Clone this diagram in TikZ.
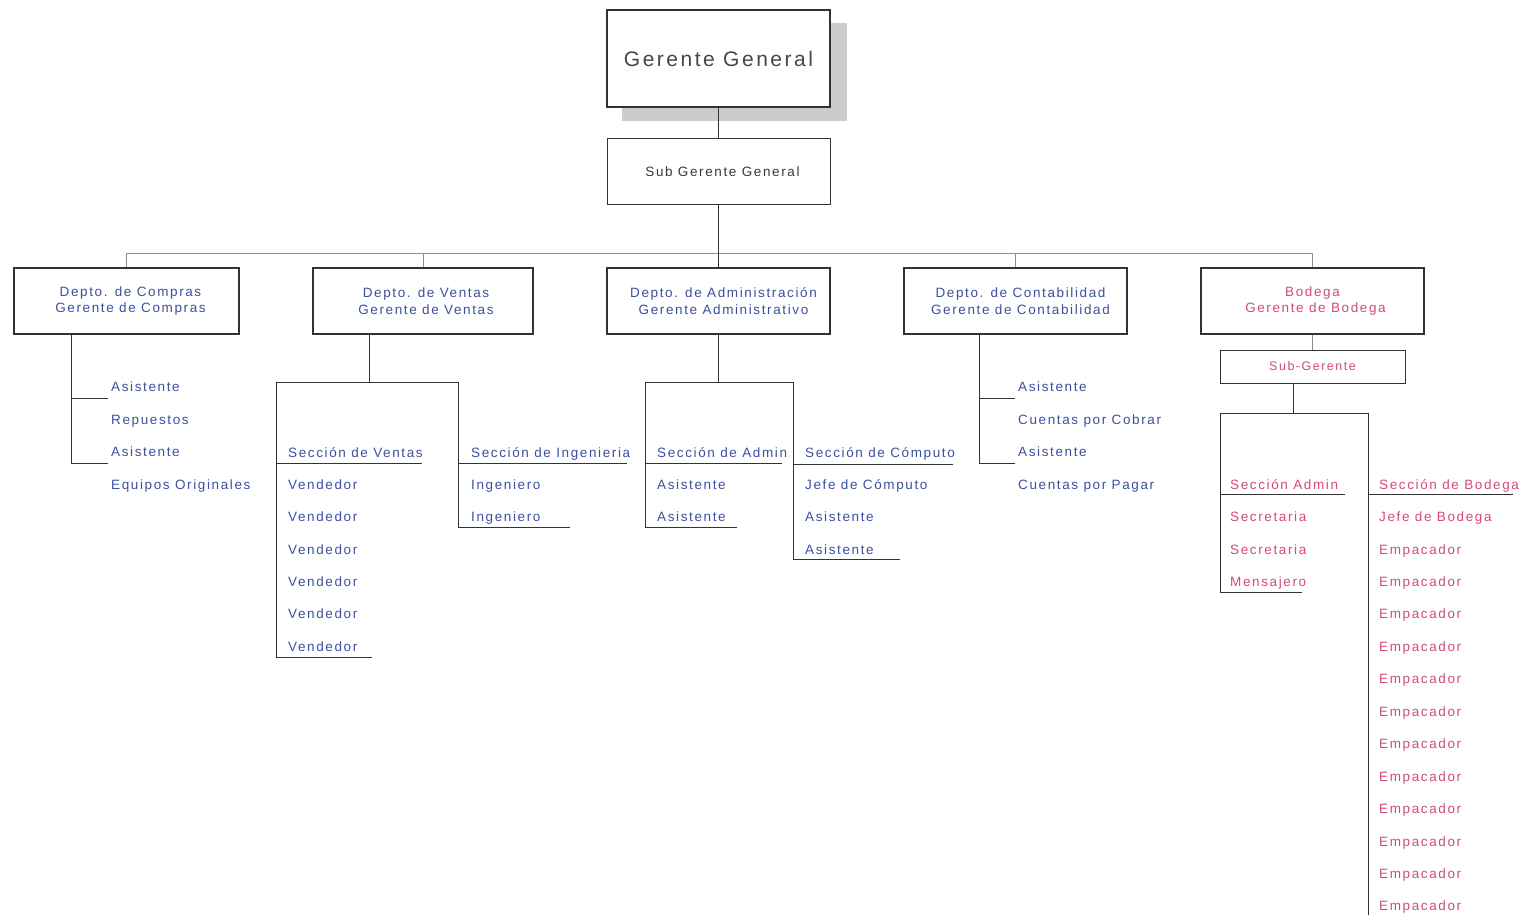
\documentclass[tikz,border=0pt]{standalone}
\usepackage{fontspec}
\setmainfont[LetterSpace=12]{Liberation Sans}
\definecolor{txtblue}{HTML}{3C4F9E}
\definecolor{txtpink}{HTML}{D24A78}
\definecolor{lin}{HTML}{333333}
\tikzset{
  box/.style={draw=lin, line width=1.6pt, fill=white, minimum width=223pt, minimum height=66pt,
    inner sep=0pt, align=center, font=\fontsize{13.5}{16.5}\selectfont, text=txtblue},
  item/.style={anchor=base west, inner sep=0pt, font=\fontsize{13.5}{16}\selectfont, text=txtblue},
  pitem/.style={item, text=txtpink},
  conn/.style={draw=lin, line width=1pt},
  bus/.style={draw=black!45, line width=0.9pt},
}
\begin{document}
\begin{tikzpicture}[x=1pt,y=-1pt]
\useasboundingbox (0,0) rectangle (1534,915);
% shadow
\fill[black!20] (622,23) rectangle (847,121);
\node[box, line width=1.2pt, minimum height=97pt, font=\fontsize{21}{24}\selectfont, text=black!72] (gg) at (718.5,58.5) {Gerente General};
\node[box, line width=1pt, minimum height=65pt, text=black!78] (sgg) at (718.5,171.5) {\hspace*{8pt}Sub Gerente General};
% departments
\node[box, minimum width=225pt] (comp) at (126.5,301) {\hspace*{8pt}Depto. de Compras\\\hspace*{8pt}Gerente de Compras};
\node[box, minimum width=220pt] (vent) at (423,301) {\hspace*{6pt}Depto. de Ventas\\\hspace*{6pt}Gerente de Ventas};
\node[box] (adm) at (718.5,301) {\hspace*{10pt}Depto. de Administración\\\hspace*{10pt}Gerente Administrativo};
\node[box] (cont) at (1015.5,301) {\hspace*{10pt}Depto. de Contabilidad\\\hspace*{10pt}Gerente de Contabilidad};
\node[box, text=txtpink] (bod) at (1312.5,301) {Bodega\\\hspace*{6pt}Gerente de Bodega};
\node[box, line width=1pt, minimum width=185pt, minimum height=33pt, text=txtpink, font=\fontsize{12.5}{14}\selectfont] (bsub) at (1312.5,366.5) {Sub-Gerente};
% top connectors
\coordinate (busc) at (718.5,253);
\draw[conn] (gg) -- (sgg);
\draw[conn] (sgg.south) -- (busc);
\draw[bus] (comp.north |- busc) -- (bod.north |- busc);
\foreach \d in {comp,vent,cont,bod} \draw[bus] (\d.north |- busc) -- (\d.north);
\draw[conn] (busc) -- (adm.north);
\draw[bus] (bod) -- (bsub);
% item nodes
\foreach \t/\y [count=\i] in {Asistente/386,Repuestos/419,Asistente/451,Equipos Originales/484}
  \node[item] (ci\i) at (111,\y+5) {\t};
\foreach \t/\y [count=\i] in {Sección de Ventas/452,Vendedor/484,Vendedor/516.5,Vendedor/549,Vendedor/581,Vendedor/613.5,Vendedor/646}
  \node[item] (vl\i) at (288,\y+5) {\t};
\foreach \t/\y [count=\i] in {Sección de Ingenieria/452,Ingeniero/484,Ingeniero/516.5}
  \node[item] (vr\i) at (471,\y+5) {\t};
\foreach \t/\y [count=\i] in {Sección de Admin/452,Asistente/484,Asistente/516.5}
  \node[item] (al\i) at (657,\y+5) {\t};
\foreach \t/\y [count=\i] in {Sección de Cómputo/452,Jefe de Cómputo/484,Asistente/516.5,Asistente/549}
  \node[item] (ar\i) at (805,\y+5) {\t};
\foreach \t/\y [count=\i] in {Asistente/386,Cuentas por Cobrar/419,Asistente/451,Cuentas por Pagar/484}
  \node[item] (ki\i) at (1018,\y+5) {\t};
\foreach \t/\y [count=\i] in {Sección Admin/484,Secretaria/516.5,Secretaria/549,Mensajero/581}
  \node[pitem] (bl\i) at (1230,\y+5) {\t};
\node[pitem] (br1) at (1379,489) {Sección de Bodega};
\node[pitem] (br2) at (1379,521.5) {Jefe de Bodega};
\foreach \i in {0,...,11}
  \node[pitem] (be\i) at (1379,554+\i*32.45) {Empacador};
% Compras tree
\coordinate (cL) at (71,0);
\draw[conn] (comp.south -| cL) -- (71,463) -- (108,463);
\draw[conn] (71,398) -- (108,398);
% Ventas tree
\coordinate (vL) at (369,0);
\draw[conn] (vent.south -| vL) -- (369,382);
\draw[conn] (276,657) -- (276,382) -- (458,382) -- (458,527) -- (570,527);
\draw[conn] (276,463) -- (422,463);
\draw[conn] (276,657) -- (372,657);
\draw[conn] (458,463) -- (627,463);
% Admin tree
\draw[conn] (adm.south) -- (718.5,382);
\draw[conn] (645,527) -- (645,382) -- (793,382) -- (793,559) -- (900,559);
\draw[conn] (645,463) -- (782,463);
\draw[conn] (645,527) -- (737,527);
\draw[conn] (793,464) -- (953,464);
% Contabilidad tree
\coordinate (kL) at (979,0);
\draw[conn] (cont.south -| kL) -- (979,463) -- (1015,463);
\draw[conn] (979,398) -- (1015,398);
% Bodega tree
\coordinate (bL) at (1293,0);
\draw[conn] (bsub.south -| bL) -- (1293,413);
\draw[conn] (1220,592) -- (1220,413) -- (1368,413) -- (1368,915);
\draw[conn] (1220,494) -- (1345,494);
\draw[conn] (1220,592) -- (1302,592);
\draw[conn] (1368,494) -- (1513,494);
\end{tikzpicture}
\end{document}
